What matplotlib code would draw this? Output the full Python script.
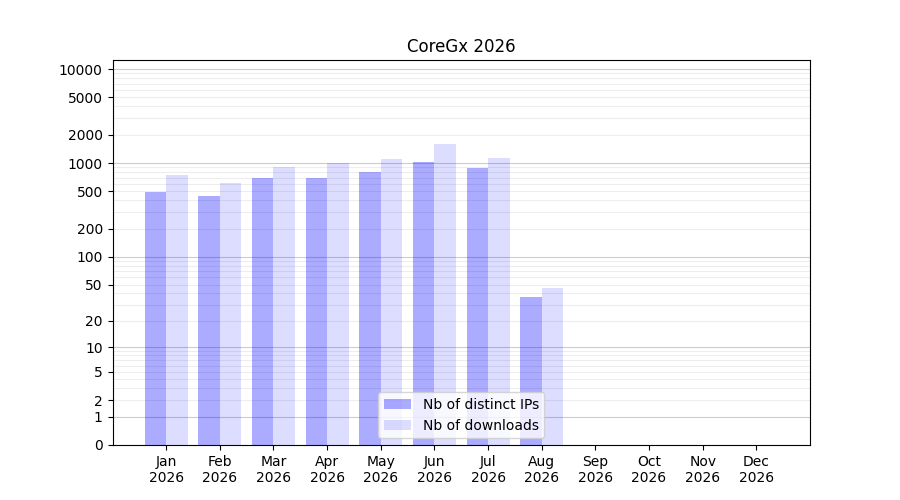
import matplotlib
matplotlib.use("Agg")
import matplotlib.pyplot as plt
import numpy as np

title = "CoreGx 2026"
months = ["Jan", "Feb", "Mar", "Apr", "May", "Jun", "Jul", "Aug", "Sep", "Oct", "Nov", "Dec"]
year = "2026"
distinct_ips = [495, 448, 697, 700, 808, 1032, 890, 37]
downloads = [750, 617, 913, 1000, 1111, 1605, 1138, 46]
ytick_values = [0, 1, 2, 5, 10, 20, 50, 100, 200, 500, 1000, 2000, 5000, 10000]

fig, ax = plt.subplots(figsize=(9, 5), dpi=100)

def fwd(v):
    return np.log10(1 + np.asarray(v, dtype=float))

def inv(v):
    return 10 ** np.asarray(v, dtype=float) - 1

ax.set_yscale("function", functions=(fwd, inv))

x = np.arange(len(distinct_ips))
w = 0.4
ax.bar(x - w / 2, distinct_ips, width=w, color=(0, 0, 1), alpha=0.33,
       label="Nb of distinct IPs", zorder=2)
ax.bar(x + w / 2, downloads, width=w, color=(0, 0, 1), alpha=0.135,
       label="Nb of downloads", zorder=2)

# grid lines
for dec in [1, 10, 100, 1000, 10000]:
    ax.axhline(dec, color="black", alpha=0.2, lw=0.8, zorder=1)
    for k in range(2, 10):
        if dec * k < 12500:
            ax.axhline(dec * k, color="black", alpha=0.07, lw=0.8, zorder=1)

ax.set_xticks(np.arange(len(months)))
ax.set_xticklabels([f"{m}\n{year}" for m in months])
ax.set_xlim(-1, 12)
ax.set_ylim(0, 12500)
ax.set_yticks(ytick_values)
ax.set_yticklabels([str(v) for v in ytick_values])
ax.minorticks_off()
ax.set_title(title)
ax.legend(loc="lower center")

fig.savefig("out.png", dpi=100)
